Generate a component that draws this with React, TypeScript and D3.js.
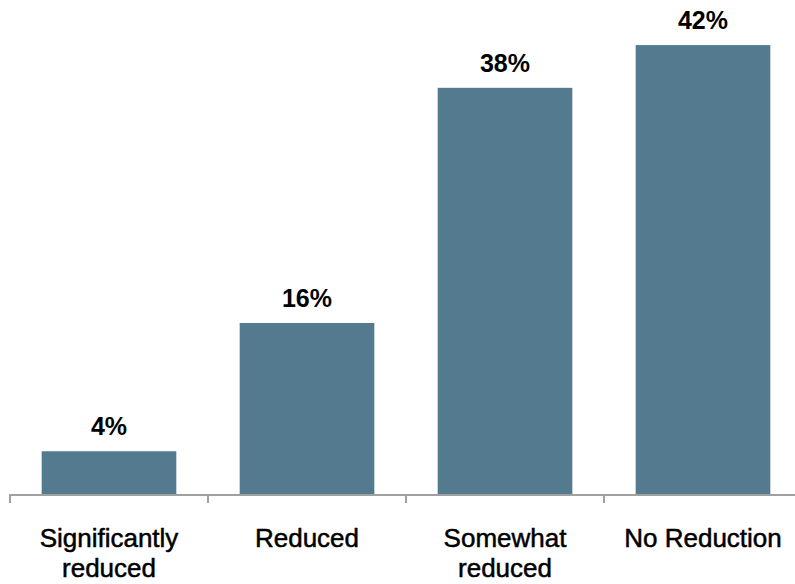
import React from 'react';
import * as d3 from 'd3';

const categories = ['Significantly reduced', 'Reduced', 'Somewhat reduced', 'No Reduction'];
const labelLines = [['Significantly', 'reduced'], ['Reduced'], ['Somewhat', 'reduced'], ['No Reduction']];
const values = [4, 16, 38, 42];

const W = 795;
const H = 584;
const baseY = 494;

const App = () => {
    const x = d3.scaleBand<string>()
        .domain(categories)
        .range([10, 802])
        .paddingInner(0.32)
        .paddingOuter(0.16);

    const y = d3.scaleLinear().domain([0, 45]).range([baseY, 13]);

    const step = x.step();
    const gap = step * x.paddingInner();
    // tick marks sit on band boundaries
    const ticks = categories.map(c => (x(c) as number) - gap / 2);

    return (
        <svg width={W} height={H} style={{ position: 'absolute', left: 0, top: 0, background: '#fff' }}
            fontFamily="'Liberation Sans', Arial, sans-serif">
            {categories.map((c, i) => (
                <rect key={c} x={x(c)} y={y(values[i])} width={x.bandwidth()}
                    height={baseY - y(values[i])} fill="#537a8e" />
            ))}
            <line x1={10} x2={W} y1={baseY + 1} y2={baseY + 1} stroke="#a0a0a0" strokeWidth={2} />
            {ticks.map((t, i) => (
                <line key={i} x1={t} x2={t} y1={baseY} y2={baseY + 9} stroke="#a0a0a0" strokeWidth={2} />
            ))}
            {categories.map((c, i) => (
                <text key={c} x={(x(c) as number) + x.bandwidth() / 2} y={y(values[i]) - 16}
                    textAnchor="middle" fontSize={25} fontWeight="bold" fill="#000">
                    {values[i]}%
                </text>
            ))}
            {categories.map((c, i) => (
                <text key={c} x={(x(c) as number) + x.bandwidth() / 2} y={547}
                    textAnchor="middle" fontSize={26} fill="#000" stroke="#000" strokeWidth={0.5}>
                    {labelLines[i].map((l, j) => (
                        <tspan key={j} x={(x(c) as number) + x.bandwidth() / 2} dy={j === 0 ? 0 : 30}>{l}</tspan>
                    ))}
                </text>
            ))}
        </svg>
    );
};

export default App;
